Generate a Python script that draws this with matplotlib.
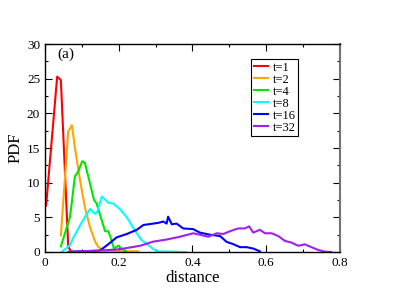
import numpy as np
import matplotlib.pyplot as plt
from matplotlib.ticker import MultipleLocator

plt.rcParams['font.family'] = ['Liberation Serif', 'DejaVu Serif']

# PDF curves (distance, PDF)
x_t1 = [0.003, 0.033, 0.043, 0.063, 0.070, 0.080, 0.100, 0.120]
y_t1 = [6.7, 25.3, 24.8, 0.8, 0.1, 0.0, 0.0, 0.0]

x_t2 = [0.043, 0.063, 0.073, 0.081, 0.095, 0.108, 0.122, 0.136, 0.145,
        0.160, 0.200, 0.253]
y_t2 = [2.4, 17.4, 18.3, 15.1, 10.4, 6.5, 3.6, 1.5, 0.7, 0.2, 0.1, 0.1]

x_t4 = [0.043, 0.068, 0.081, 0.090, 0.101, 0.108, 0.122, 0.133, 0.140,
        0.163, 0.172, 0.181, 0.187, 0.199, 0.208, 0.220]
y_t4 = [0.8, 5.1, 10.9, 11.6, 13.1, 12.9, 9.9, 7.5, 7.0,
        3.0, 3.0, 1.6, 0.5, 0.9, 0.5, 0.1]

x_t8 = [0.045, 0.068, 0.077, 0.100, 0.122, 0.136, 0.142, 0.154, 0.172,
        0.185, 0.203, 0.222, 0.244, 0.262, 0.276, 0.294, 0.307, 0.384]
y_t8 = [0.0, 1.0, 2.1, 4.3, 6.2, 5.5, 5.8, 8.0, 7.1,
        7.0, 6.2, 5.0, 3.1, 1.7, 1.2, 0.4, 0.1, 0.0]

x_t16 = [0.063, 0.095, 0.149, 0.176, 0.194, 0.222, 0.249, 0.267, 0.294,
         0.307, 0.321, 0.330, 0.334, 0.344, 0.357, 0.375, 0.402, 0.420,
         0.447, 0.475, 0.493, 0.510, 0.529, 0.547, 0.565, 0.583]
y_t16 = [0.0, 0.1, 0.2, 1.3, 2.1, 2.6, 3.2, 3.9, 4.1,
         4.2, 4.4, 4.1, 5.1, 4.0, 4.1, 3.4, 3.3, 2.8,
         2.5, 2.3, 1.45, 1.15, 0.7, 0.7, 0.5, 0.1]

x_t32 = [0.063, 0.095, 0.149, 0.203, 0.258, 0.294, 0.330, 0.366, 0.402,
         0.420, 0.443, 0.466, 0.484, 0.502, 0.524, 0.542, 0.554, 0.565,
         0.583, 0.597, 0.615, 0.633, 0.651, 0.669, 0.687, 0.705, 0.723,
         0.741, 0.759, 0.777]
y_t32 = [0.0, 0.1, 0.2, 0.4, 0.9, 1.5, 1.8, 2.2, 2.7,
         2.5, 2.2, 2.7, 2.6, 3.0, 3.4, 3.4, 3.7, 2.8,
         3.2, 2.7, 2.7, 2.3, 1.6, 1.35, 0.9, 1.1, 0.7,
         0.3, 0.05, 0.0]

series = [
    (x_t1, y_t1, 't=1', '#ff0000'),
    (x_t2, y_t2, 't=2', '#ffa500'),
    (x_t4, y_t4, 't=4', '#00e800'),
    (x_t8, y_t8, 't=8', '#00ffff'),
    (x_t16, y_t16, 't=16', '#0000ff'),
    (x_t32, y_t32, 't=32', '#a020f0'),
]

fig = plt.figure(figsize=(4.07, 2.88), dpi=100)
ax = fig.add_axes([0.1106, 0.125, 0.7244, 0.722])

for xs, ys, lab, col in series:
    ax.plot(xs, ys, color=col, lw=1.5, label=lab)

ax.set_xlim(0, 0.8)
ax.set_ylim(0, 30)
ax.set_xticks([0, 0.2, 0.4, 0.6, 0.8])
ax.set_xticklabels(['0', '0.2', '0.4', '0.6', '0.8'])
ax.xaxis.set_minor_locator(MultipleLocator(0.1))
ax.yaxis.set_major_locator(MultipleLocator(5))
ax.yaxis.set_minor_locator(MultipleLocator(2.5))
ax.tick_params(which='both', direction='in', top=True, right=True, labelsize=9.5)
ax.tick_params(which='major', length=5, width=0.8)
ax.tick_params(which='minor', length=2.5, width=0.8)
for s in ax.spines.values():
    s.set_linewidth(1.0)
ax.spines['right'].set_color('0.45')
ax.spines['right'].set_linewidth(1.5)

ax.set_xlabel('distance', fontsize=12, labelpad=1)
ax.set_ylabel('PDF', fontsize=12, labelpad=2)
ax.text(0.033, 28.6, '(a)', fontsize=11, va='center', ha='left')

leg = ax.legend(loc='upper left', bbox_to_anchor=(0.70, 0.928), fontsize=9,
                frameon=True, fancybox=False, framealpha=1, edgecolor='black',
                labelspacing=0.0, handlelength=1.1, handletextpad=0.4,
                borderpad=0.2, borderaxespad=0)
leg.get_frame().set_linewidth(0.8)

fig.savefig('out.png', dpi=100)
